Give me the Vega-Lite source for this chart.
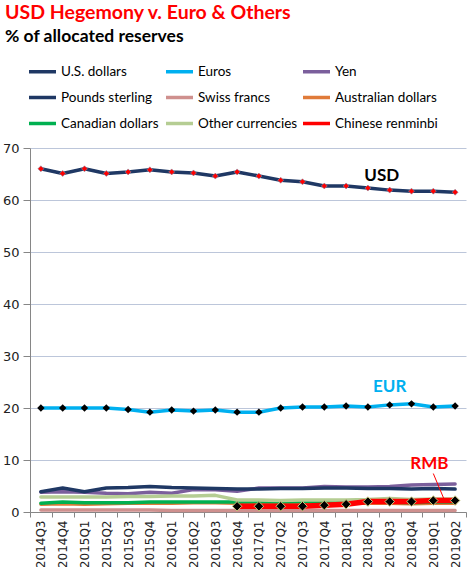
{
  "$schema": "https://vega.github.io/schema/vega-lite/v6.json",
  "width": 436,
  "height": 364,
  "autosize": {"type": "none"},
  "padding": {"left": 30, "top": 148, "right": 2, "bottom": 55},
  "background": "white",
  "title": {
    "text": "USD Hegemony v. Euro & Others",
    "subtitle": "% of allocated reserves",
    "anchor": "start",
    "frame": "group",
    "dx": -25,
    "offset": 10,
    "font": "Lato",
    "fontSize": 19.5,
    "fontWeight": "bold",
    "color": "#FF0000",
    "subtitleFont": "Lato",
    "subtitleFontSize": 17.5,
    "subtitleFontWeight": "bold",
    "subtitleColor": "#000000",
    "subtitlePadding": 4
  },
  "config": {
    "view": {"stroke": null},
    "axis": {"labelFont": "DejaVu Sans", "labelColor": "#222222", "domainColor": "#868686", "tickColor": "#868686", "titleFont": "Lato"}
  },
  "datasets": {
    "reserves": [
      {"q": "2014Q3", "s": "U.S. dollars", "v": 66.0}, {"q": "2014Q4", "s": "U.S. dollars", "v": 65.1}, {"q": "2015Q1", "s": "U.S. dollars", "v": 66.0}, {"q": "2015Q2", "s": "U.S. dollars", "v": 65.1}, {"q": "2015Q3", "s": "U.S. dollars", "v": 65.4}, {"q": "2015Q4", "s": "U.S. dollars", "v": 65.8}, {"q": "2016Q1", "s": "U.S. dollars", "v": 65.4}, {"q": "2016Q2", "s": "U.S. dollars", "v": 65.2}, {"q": "2016Q3", "s": "U.S. dollars", "v": 64.6}, {"q": "2016Q4", "s": "U.S. dollars", "v": 65.4}, {"q": "2017Q1", "s": "U.S. dollars", "v": 64.6}, {"q": "2017Q2", "s": "U.S. dollars", "v": 63.8}, {"q": "2017Q3", "s": "U.S. dollars", "v": 63.5}, {"q": "2017Q4", "s": "U.S. dollars", "v": 62.7}, {"q": "2018Q1", "s": "U.S. dollars", "v": 62.7}, {"q": "2018Q2", "s": "U.S. dollars", "v": 62.3}, {"q": "2018Q3", "s": "U.S. dollars", "v": 61.9}, {"q": "2018Q4", "s": "U.S. dollars", "v": 61.7}, {"q": "2019Q1", "s": "U.S. dollars", "v": 61.7}, {"q": "2019Q2", "s": "U.S. dollars", "v": 61.5},
      {"q": "2014Q3", "s": "Euros", "v": 20.0}, {"q": "2014Q4", "s": "Euros", "v": 20.0}, {"q": "2015Q1", "s": "Euros", "v": 20.0}, {"q": "2015Q2", "s": "Euros", "v": 20.0}, {"q": "2015Q3", "s": "Euros", "v": 19.7}, {"q": "2015Q4", "s": "Euros", "v": 19.2}, {"q": "2016Q1", "s": "Euros", "v": 19.6}, {"q": "2016Q2", "s": "Euros", "v": 19.4}, {"q": "2016Q3", "s": "Euros", "v": 19.6}, {"q": "2016Q4", "s": "Euros", "v": 19.2}, {"q": "2017Q1", "s": "Euros", "v": 19.2}, {"q": "2017Q2", "s": "Euros", "v": 20.0}, {"q": "2017Q3", "s": "Euros", "v": 20.2}, {"q": "2017Q4", "s": "Euros", "v": 20.2}, {"q": "2018Q1", "s": "Euros", "v": 20.4}, {"q": "2018Q2", "s": "Euros", "v": 20.2}, {"q": "2018Q3", "s": "Euros", "v": 20.6}, {"q": "2018Q4", "s": "Euros", "v": 20.8}, {"q": "2019Q1", "s": "Euros", "v": 20.2}, {"q": "2019Q2", "s": "Euros", "v": 20.4},
      {"q": "2014Q3", "s": "Yen", "v": 3.8}, {"q": "2014Q4", "s": "Yen", "v": 3.9}, {"q": "2015Q1", "s": "Yen", "v": 3.8}, {"q": "2015Q2", "s": "Yen", "v": 3.6}, {"q": "2015Q3", "s": "Yen", "v": 3.5}, {"q": "2015Q4", "s": "Yen", "v": 3.8}, {"q": "2016Q1", "s": "Yen", "v": 3.6}, {"q": "2016Q2", "s": "Yen", "v": 4.3}, {"q": "2016Q3", "s": "Yen", "v": 4.3}, {"q": "2016Q4", "s": "Yen", "v": 4.0}, {"q": "2017Q1", "s": "Yen", "v": 4.6}, {"q": "2017Q2", "s": "Yen", "v": 4.6}, {"q": "2017Q3", "s": "Yen", "v": 4.6}, {"q": "2017Q4", "s": "Yen", "v": 4.9}, {"q": "2018Q1", "s": "Yen", "v": 4.8}, {"q": "2018Q2", "s": "Yen", "v": 4.8}, {"q": "2018Q3", "s": "Yen", "v": 4.9}, {"q": "2018Q4", "s": "Yen", "v": 5.2}, {"q": "2019Q1", "s": "Yen", "v": 5.3}, {"q": "2019Q2", "s": "Yen", "v": 5.4},
      {"q": "2014Q3", "s": "Pounds sterling", "v": 3.9}, {"q": "2014Q4", "s": "Pounds sterling", "v": 4.6}, {"q": "2015Q1", "s": "Pounds sterling", "v": 3.9}, {"q": "2015Q2", "s": "Pounds sterling", "v": 4.6}, {"q": "2015Q3", "s": "Pounds sterling", "v": 4.7}, {"q": "2015Q4", "s": "Pounds sterling", "v": 4.9}, {"q": "2016Q1", "s": "Pounds sterling", "v": 4.7}, {"q": "2016Q2", "s": "Pounds sterling", "v": 4.6}, {"q": "2016Q3", "s": "Pounds sterling", "v": 4.5}, {"q": "2016Q4", "s": "Pounds sterling", "v": 4.4}, {"q": "2017Q1", "s": "Pounds sterling", "v": 4.4}, {"q": "2017Q2", "s": "Pounds sterling", "v": 4.5}, {"q": "2017Q3", "s": "Pounds sterling", "v": 4.5}, {"q": "2017Q4", "s": "Pounds sterling", "v": 4.6}, {"q": "2018Q1", "s": "Pounds sterling", "v": 4.6}, {"q": "2018Q2", "s": "Pounds sterling", "v": 4.5}, {"q": "2018Q3", "s": "Pounds sterling", "v": 4.5}, {"q": "2018Q4", "s": "Pounds sterling", "v": 4.4}, {"q": "2019Q1", "s": "Pounds sterling", "v": 4.5}, {"q": "2019Q2", "s": "Pounds sterling", "v": 4.4},
      {"q": "2014Q3", "s": "Swiss francs", "v": 0.4}, {"q": "2014Q4", "s": "Swiss francs", "v": 0.4}, {"q": "2015Q1", "s": "Swiss francs", "v": 0.4}, {"q": "2015Q2", "s": "Swiss francs", "v": 0.4}, {"q": "2015Q3", "s": "Swiss francs", "v": 0.4}, {"q": "2015Q4", "s": "Swiss francs", "v": 0.4}, {"q": "2016Q1", "s": "Swiss francs", "v": 0.3}, {"q": "2016Q2", "s": "Swiss francs", "v": 0.3}, {"q": "2016Q3", "s": "Swiss francs", "v": 0.3}, {"q": "2016Q4", "s": "Swiss francs", "v": 0.3}, {"q": "2017Q1", "s": "Swiss francs", "v": 0.3}, {"q": "2017Q2", "s": "Swiss francs", "v": 0.3}, {"q": "2017Q3", "s": "Swiss francs", "v": 0.3}, {"q": "2017Q4", "s": "Swiss francs", "v": 0.3}, {"q": "2018Q1", "s": "Swiss francs", "v": 0.3}, {"q": "2018Q2", "s": "Swiss francs", "v": 0.3}, {"q": "2018Q3", "s": "Swiss francs", "v": 0.3}, {"q": "2018Q4", "s": "Swiss francs", "v": 0.3}, {"q": "2019Q1", "s": "Swiss francs", "v": 0.3}, {"q": "2019Q2", "s": "Swiss francs", "v": 0.3},
      {"q": "2014Q3", "s": "Australian dollars", "v": 1.5}, {"q": "2014Q4", "s": "Australian dollars", "v": 1.6}, {"q": "2015Q1", "s": "Australian dollars", "v": 1.5}, {"q": "2015Q2", "s": "Australian dollars", "v": 1.6}, {"q": "2015Q3", "s": "Australian dollars", "v": 1.7}, {"q": "2015Q4", "s": "Australian dollars", "v": 1.7}, {"q": "2016Q1", "s": "Australian dollars", "v": 1.7}, {"q": "2016Q2", "s": "Australian dollars", "v": 1.8}, {"q": "2016Q3", "s": "Australian dollars", "v": 1.8}, {"q": "2016Q4", "s": "Australian dollars", "v": 1.7}, {"q": "2017Q1", "s": "Australian dollars", "v": 1.8}, {"q": "2017Q2", "s": "Australian dollars", "v": 1.7}, {"q": "2017Q3", "s": "Australian dollars", "v": 1.8}, {"q": "2017Q4", "s": "Australian dollars", "v": 1.8}, {"q": "2018Q1", "s": "Australian dollars", "v": 1.7}, {"q": "2018Q2", "s": "Australian dollars", "v": 1.7}, {"q": "2018Q3", "s": "Australian dollars", "v": 1.7}, {"q": "2018Q4", "s": "Australian dollars", "v": 1.6}, {"q": "2019Q1", "s": "Australian dollars", "v": 1.7}, {"q": "2019Q2", "s": "Australian dollars", "v": 1.7},
      {"q": "2014Q3", "s": "Canadian dollars", "v": 1.7}, {"q": "2014Q4", "s": "Canadian dollars", "v": 1.9}, {"q": "2015Q1", "s": "Canadian dollars", "v": 1.8}, {"q": "2015Q2", "s": "Canadian dollars", "v": 1.8}, {"q": "2015Q3", "s": "Canadian dollars", "v": 1.8}, {"q": "2015Q4", "s": "Canadian dollars", "v": 1.9}, {"q": "2016Q1", "s": "Canadian dollars", "v": 1.9}, {"q": "2016Q2", "s": "Canadian dollars", "v": 1.9}, {"q": "2016Q3", "s": "Canadian dollars", "v": 1.9}, {"q": "2016Q4", "s": "Canadian dollars", "v": 1.9}, {"q": "2017Q1", "s": "Canadian dollars", "v": 2.0}, {"q": "2017Q2", "s": "Canadian dollars", "v": 1.9}, {"q": "2017Q3", "s": "Canadian dollars", "v": 2.0}, {"q": "2017Q4", "s": "Canadian dollars", "v": 2.0}, {"q": "2018Q1", "s": "Canadian dollars", "v": 1.9}, {"q": "2018Q2", "s": "Canadian dollars", "v": 1.9}, {"q": "2018Q3", "s": "Canadian dollars", "v": 1.9}, {"q": "2018Q4", "s": "Canadian dollars", "v": 1.8}, {"q": "2019Q1", "s": "Canadian dollars", "v": 1.9}, {"q": "2019Q2", "s": "Canadian dollars", "v": 1.9},
      {"q": "2014Q3", "s": "Other currencies", "v": 2.9}, {"q": "2014Q4", "s": "Other currencies", "v": 2.9}, {"q": "2015Q1", "s": "Other currencies", "v": 2.9}, {"q": "2015Q2", "s": "Other currencies", "v": 2.9}, {"q": "2015Q3", "s": "Other currencies", "v": 3.0}, {"q": "2015Q4", "s": "Other currencies", "v": 3.0}, {"q": "2016Q1", "s": "Other currencies", "v": 3.1}, {"q": "2016Q2", "s": "Other currencies", "v": 3.1}, {"q": "2016Q3", "s": "Other currencies", "v": 3.2}, {"q": "2016Q4", "s": "Other currencies", "v": 2.3}, {"q": "2017Q1", "s": "Other currencies", "v": 2.3}, {"q": "2017Q2", "s": "Other currencies", "v": 2.2}, {"q": "2017Q3", "s": "Other currencies", "v": 2.3}, {"q": "2017Q4", "s": "Other currencies", "v": 2.3}, {"q": "2018Q1", "s": "Other currencies", "v": 2.3}, {"q": "2018Q2", "s": "Other currencies", "v": 2.4}, {"q": "2018Q3", "s": "Other currencies", "v": 2.6}, {"q": "2018Q4", "s": "Other currencies", "v": 2.4}, {"q": "2019Q1", "s": "Other currencies", "v": 2.5}, {"q": "2019Q2", "s": "Other currencies", "v": 2.5},
      {"q": "2016Q4", "s": "Chinese renminbi", "v": 1.1}, {"q": "2017Q1", "s": "Chinese renminbi", "v": 1.1}, {"q": "2017Q2", "s": "Chinese renminbi", "v": 1.1}, {"q": "2017Q3", "s": "Chinese renminbi", "v": 1.1}, {"q": "2017Q4", "s": "Chinese renminbi", "v": 1.3}, {"q": "2018Q1", "s": "Chinese renminbi", "v": 1.5}, {"q": "2018Q2", "s": "Chinese renminbi", "v": 2.0}, {"q": "2018Q3", "s": "Chinese renminbi", "v": 2.0}, {"q": "2018Q4", "s": "Chinese renminbi", "v": 2.0}, {"q": "2019Q1", "s": "Chinese renminbi", "v": 2.2}, {"q": "2019Q2", "s": "Chinese renminbi", "v": 2.2}
    ],
    "labels": [
      {"label": "USD", "q": "2018Q3", "v": 64.7},
      {"label": "EUR", "q": "2018Q3", "v": 24.0},
      {"label": "RMB", "q": "2019Q1", "v": 9.2}
    ],
    "pointer": [
      {"q": "2019Q1", "v": 7.4, "q2": "2019Q2", "v2": 2.4}
    ]
  },
  "layer": [
    {
      "data": {"name": "reserves"},
      "transform": [{"filter": "datum.s !== 'Chinese renminbi'"}],
      "mark": {"type": "line", "strokeJoin": "round", "strokeCap": "round"},
      "encoding": {
        "x": {"field": "q", "type": "ordinal", "sort": null, "scale": {"type": "band", "paddingInner": 0, "paddingOuter": 0},
          "axis": {"title": null, "labelAngle": -90, "labelFontSize": 12, "tickBand": "extent", "tickSize": 5, "labelPadding": 3, "grid": false}},
        "y": {"field": "v", "type": "quantitative", "scale": {"domain": [0, 70]},
          "axis": {"title": null, "values": [0, 10, 20, 30, 40, 50, 60, 70], "labelFontSize": 13, "tickSize": 7, "labelPadding": 4, "grid": true, "gridColor": "#BCC6DA", "gridWidth": 1}},
        "color": {"field": "s", "type": "nominal",
          "scale": {"domain": ["U.S. dollars", "Euros", "Yen", "Pounds sterling", "Swiss francs", "Australian dollars", "Canadian dollars", "Other currencies", "Chinese renminbi"],
            "range": ["#1F3864", "#00B0F0", "#7B5F9C", "#1F3864", "#CF908E", "#E07B39", "#00B050", "#B5CD93", "#FF0000"]},
          "legend": {"title": null, "orient": "none", "legendX": -3, "legendY": -92, "padding": 0, "direction": "horizontal", "columns": 3, "gridAlign": "all", "symbolType": "stroke", "symbolSize": 729, "symbolStrokeWidth": 3.5, "labelFont": "Lato", "labelFontSize": 13.5, "labelColor": "#000000", "labelOffset": 3, "columnPadding": -7, "rowPadding": 3}},
        "strokeWidth": {"field": "s", "type": "nominal", "legend": null,
          "scale": {"domain": ["U.S. dollars", "Euros", "Yen", "Pounds sterling", "Swiss francs", "Australian dollars", "Canadian dollars", "Other currencies"],
            "range": [3.5, 3.5, 3, 3, 3.5, 3, 3.5, 3.5]}}
      }
    },
    {
      "data": {"name": "reserves"},
      "transform": [{"filter": "datum.s === 'Chinese renminbi'"}],
      "mark": {"type": "line", "strokeWidth": 5.5},
      "encoding": {
        "x": {"field": "q", "type": "ordinal", "sort": null},
        "y": {"field": "v", "type": "quantitative"},
        "color": {"field": "s", "type": "nominal"}
      }
    },
    {
      "data": {"name": "reserves"},
      "transform": [{"filter": "datum.s === 'U.S. dollars'"}],
      "mark": {"type": "point", "shape": "diamond", "filled": true, "size": 36, "color": "#FF0000", "stroke": "#8C8FA8", "strokeWidth": 0.6, "opacity": 1},
      "encoding": {
        "x": {"field": "q", "type": "ordinal", "sort": null},
        "y": {"field": "v", "type": "quantitative"}
      }
    },
    {
      "data": {"name": "reserves"},
      "transform": [{"filter": "datum.s === 'Euros'"}],
      "mark": {"type": "point", "shape": "diamond", "filled": true, "size": 55, "color": "#000000", "opacity": 1},
      "encoding": {
        "x": {"field": "q", "type": "ordinal", "sort": null},
        "y": {"field": "v", "type": "quantitative"}
      }
    },
    {
      "data": {"name": "reserves"},
      "transform": [{"filter": "datum.s === 'Chinese renminbi'"}],
      "mark": {"type": "point", "shape": "diamond", "filled": true, "size": 90, "color": "#000000", "stroke": "#C9C77E", "strokeWidth": 1, "opacity": 1},
      "encoding": {
        "x": {"field": "q", "type": "ordinal", "sort": null},
        "y": {"field": "v", "type": "quantitative"}
      }
    },
    {
      "data": {"name": "pointer"},
      "mark": {"type": "rule", "color": "#FF0000", "strokeWidth": 1},
      "encoding": {
        "x": {"field": "q2", "type": "ordinal", "sort": null, "bandPosition": 0},
        "x2": {"field": "q"},
        "y": {"field": "v2", "type": "quantitative"},
        "y2": {"field": "v"}
      }
    },
    {
      "data": {"name": "labels"},
      "transform": [{"filter": "datum.label === 'USD'"}],
      "mark": {"type": "text", "align": "center", "baseline": "middle", "font": "Lato", "fontSize": 17, "fontWeight": "bold", "color": "#000000", "dx": -8},
      "encoding": {
        "x": {"field": "q", "type": "ordinal", "sort": null, "bandPosition": 0.5},
        "y": {"field": "v", "type": "quantitative"},
        "text": {"field": "label"}
      }
    },
    {
      "data": {"name": "labels"},
      "transform": [{"filter": "datum.label === 'EUR'"}],
      "mark": {"type": "text", "align": "center", "baseline": "middle", "font": "Lato", "fontSize": 17, "fontWeight": "bold", "color": "#00B0F0"},
      "encoding": {
        "x": {"field": "q", "type": "ordinal", "sort": null, "bandPosition": 0.5},
        "y": {"field": "v", "type": "quantitative"},
        "text": {"field": "label"}
      }
    },
    {
      "data": {"name": "labels"},
      "transform": [{"filter": "datum.label === 'RMB'"}],
      "mark": {"type": "text", "align": "center", "baseline": "middle", "font": "Lato", "fontSize": 17, "fontWeight": "bold", "color": "#FF0000", "dx": -4},
      "encoding": {
        "x": {"field": "q", "type": "ordinal", "sort": null, "bandPosition": 0.5},
        "y": {"field": "v", "type": "quantitative"},
        "text": {"field": "label"}
      }
    }
  ]
}
